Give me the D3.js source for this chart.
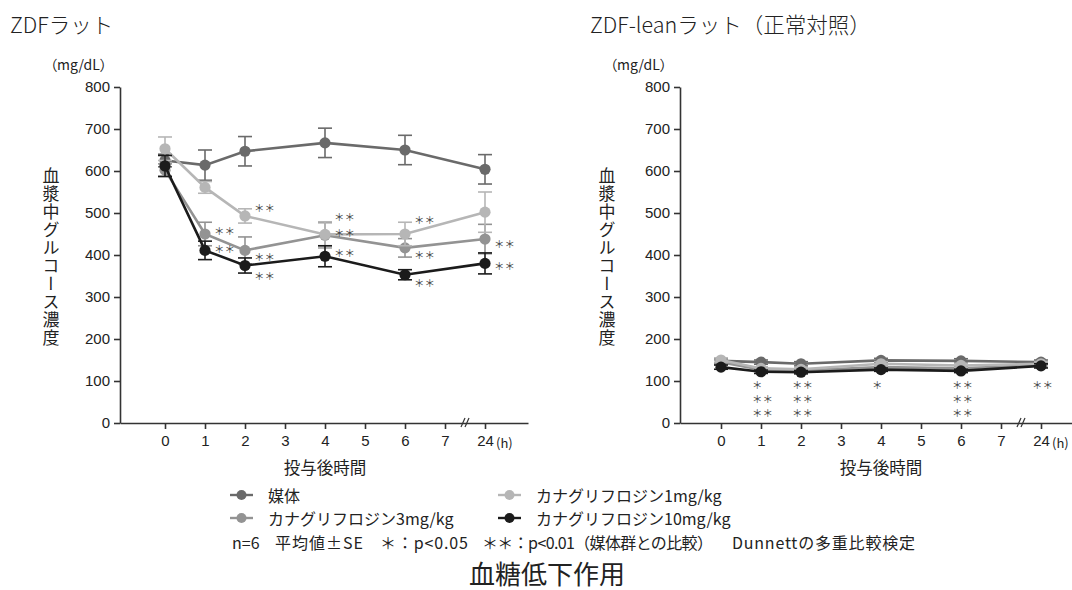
<!DOCTYPE html>
<html>
<head>
<meta charset="utf-8">
<script src="https://cdn.jsdelivr.net/npm/d3@7"></script>
<style>
body { margin: 0; background: #fff; }
svg { font-family: "Noto Sans CJK JP", "Noto Sans", sans-serif; }
.palt { font-feature-settings: "palt"; }
</style>
</head>
<body>
<svg id="chart" width="1072" height="590"></svg>
<script>
// time points (hours after dosing) and x tick labels
var hours = [0, 1, 2, 4, 6, 24];
var tickHours = [0, 1, 2, 3, 4, 5, 6, 7, 24];
var yTicks = [0, 100, 200, 300, 400, 500, 600, 700, 800];

var seriesNames = ['媒体', 'カナグリフロジン1mg/kg', 'カナグリフロジン3mg/kg', 'カナグリフロジン10mg/kg'];
var seriesColors = ['#6a6a6a', '#b6b6b6', '#939393', '#1b1b1b'];

// ZDF rats: mean and SE (mg/dL)
var zdfVehicle   = [625, 614, 647, 667, 650, 604];
var zdfVehicleSE = [15, 36, 35, 35, 35, 35];
var zdf1mg       = [653, 561, 493, 449, 450, 502];
var zdf1mgSE     = [28, 14, 17, 30, 28, 48];
var zdf3mg       = [602, 450, 411, 447, 417, 438];
var zdf3mgSE     = [15, 28, 32, 30, 22, 35];
var zdf10mg      = [612, 411, 375, 397, 353, 380];
var zdf10mgSE    = [25, 22, 18, 25, 12, 25];

// ZDF-lean rats
var leanVehicle   = [148, 145, 141, 149, 148, 145];
var leanVehicleSE = [5, 5, 5, 5, 5, 5];
var lean1mg       = [150, 130, 128, 141, 137, 141];
var lean1mgSE     = [5, 4, 4, 5, 5, 5];
var lean3mg       = [145, 127, 125, 133, 130, 138];
var lean3mgSE     = [5, 4, 4, 5, 5, 5];
var lean10mg      = [133, 122, 121, 127, 124, 136];
var lean10mgSE    = [5, 4, 4, 4, 4, 5];

// significance marks: [series index, hour, mark, vertical offset]
var zdfStars = [
  [1, 2, '＊＊', -8], [2, 1, '＊＊', -4], [3, 1, '＊＊', -2],
  [2, 2, '＊＊', 6], [3, 2, '＊＊', 10],
  [1, 4, '＊＊', -18], [2, 4, '＊＊', -3], [3, 4, '＊＊', -4],
  [1, 6, '＊＊', -15], [2, 6, '＊＊', 7], [3, 6, '＊＊', 8],
  [2, 24, '＊＊', 4], [3, 24, '＊＊', 2]
];
// lean rats: marks stacked under each time point
var leanStars = [
  [1, ['＊', '＊＊', '＊＊']],
  [2, ['＊＊', '＊＊', '＊＊']],
  [4, ['＊']],
  [6, ['＊＊', '＊＊', '＊＊']],
  [24, ['＊＊']]
];

var footnote = ['n=6', '平均値±SE', '＊：p<0.05', '＊＊：p<0.01（媒体群との比較）', 'Dunnettの多重比較検定'];

var svg = d3.select('#chart');

function hourPos(h) { return h === 24 ? 8 : h; }

var y = d3.scaleLinear().domain([0, 800]).range([423, 87]);

function drawPanel(opt) {
  var g = svg.append('g');
  var x = d3.scaleLinear().domain([opt.d0, opt.d1]).range([opt.axisX, opt.axisEnd]);

  // title
  g.append('text').attr('x', opt.titleX).attr('y', 33)
    .attr('font-size', 21.5).attr('font-weight', 300).attr('fill', '#222')
    .text(opt.title);
  g.append('text').attr('x', opt.axisX - 70).attr('y', 70)
    .attr('font-size', 14).attr('fill', '#222').classed('palt', true).text('（mg/dL）');

  // y axis
  var ya = g.append('g').attr('transform', 'translate(' + opt.axisX + ',0)')
    .call(d3.axisLeft(y).tickValues(yTicks).tickSize(6).tickSizeOuter(0).tickPadding(4));
  ya.selectAll('text').attr('font-size', 15).attr('font-family', 'inherit').attr('fill', '#222');
  ya.selectAll('line, path').attr('stroke', '#333').attr('stroke-width', 1.6);

  // x axis
  var xa = g.append('g').attr('transform', 'translate(0,' + y(0) + ')')
    .call(d3.axisBottom(x).tickValues(tickHours.map(hourPos)).tickSize(6).tickSizeOuter(0).tickPadding(6)
      .tickFormat(function(d, i) { return tickHours[i]; }));
  xa.selectAll('text').attr('font-size', 15).attr('font-family', 'inherit').attr('fill', '#222');
  xa.selectAll('line, path').attr('stroke', '#333').attr('stroke-width', 1.6);
  g.append('text').attr('x', x(8) + 11).attr('y', y(0) + 25)
    .attr('font-size', 13).attr('fill', '#222').text('(h)');

  // axis break
  [0, 4].forEach(function(o) {
    g.append('line')
      .attr('x1', x(7.5) - 4 + o).attr('y1', y(0) + 4)
      .attr('x2', x(7.5) + o).attr('y2', y(0) - 5)
      .attr('stroke', '#333').attr('stroke-width', 1.2);
  });

  // axis titles
  g.append('text').attr('x', x(4)).attr('y', 474)
    .attr('text-anchor', 'middle').attr('font-size', 16.5).attr('fill', '#222').text('投与後時間');
  g.append('text').attr('x', opt.labelX).attr('y', 257)
    .attr('text-anchor', 'middle')
    .style('writing-mode', 'vertical-rl')
    .attr('letter-spacing', 1)
    .attr('font-size', 17).attr('fill', '#222').text('血漿中グルコース濃度');

  // series, drawn back to front
  var order = [0, 2, 1, 3];
  order.forEach(function(si) {
    var vals = opt.series[si], se = opt.se[si], col = seriesColors[si];
    var pts = hours.map(function(h, i) { return {h: h, v: vals[i], se: se[i]}; });
    var sg = g.append('g');

    var bars = sg.selectAll('g.err').data(pts).enter().append('g').classed('err', true);
    bars.append('line')
      .attr('x1', function(d) { return x(hourPos(d.h)); })
      .attr('x2', function(d) { return x(hourPos(d.h)); })
      .attr('y1', function(d) { return y(d.v - d.se); })
      .attr('y2', function(d) { return y(d.v + d.se); });
    [-1, 1].forEach(function(s) {
      bars.append('line')
        .attr('x1', function(d) { return x(hourPos(d.h)) - 7; })
        .attr('x2', function(d) { return x(hourPos(d.h)) + 7; })
        .attr('y1', function(d) { return y(d.v + s * d.se); })
        .attr('y2', function(d) { return y(d.v + s * d.se); });
    });
    bars.selectAll('line').attr('stroke', col).attr('stroke-width', 1.6);

    sg.append('path').datum(pts)
      .attr('fill', 'none').attr('stroke', col).attr('stroke-width', 2.6)
      .attr('d', d3.line()
        .x(function(d) { return x(hourPos(d.h)); })
        .y(function(d) { return y(d.v); }));

    sg.selectAll('circle').data(pts).enter().append('circle')
      .attr('cx', function(d) { return x(hourPos(d.h)); })
      .attr('cy', function(d) { return y(d.v); })
      .attr('r', 5.6)
      .attr('fill', col);
  });

  return {g: g, x: x};
}

var left = drawPanel({
  title: 'ZDFラット', titleX: 10, axisX: 120, axisEnd: 528, d0: -1.125, d1: 9.075, labelX: 51,
  series: [zdfVehicle, zdf1mg, zdf3mg, zdf10mg],
  se: [zdfVehicleSE, zdf1mgSE, zdf3mgSE, zdf10mgSE]
});

var right = drawPanel({
  title: 'ZDF-leanラット（正常対照）', titleX: 590, axisX: 680, axisEnd: 1072, d0: -1.025, d1: 8.775, labelX: 607,
  series: [leanVehicle, lean1mg, lean3mg, lean10mg],
  se: [leanVehicleSE, lean1mgSE, lean3mgSE, lean10mgSE]
});

var zdfSeries = [zdfVehicle, zdf1mg, zdf3mg, zdf10mg];
left.g.selectAll('text.star').data(zdfStars).enter().append('text')
  .classed('star', true)
  .attr('x', function(d) { return left.x(hourPos(d[1])) + 9; })
  .attr('y', function(d) { return y(zdfSeries[d[0]][hours.indexOf(d[1])]) + d[3]; })
  .attr('dominant-baseline', 'central')
  .attr('font-size', 10.5).attr('fill', '#444')
  .text(function(d) { return d[2]; });

leanStars.forEach(function(s) {
  s[1].forEach(function(mark, row) {
    right.g.append('text')
      .attr('x', right.x(hourPos(s[0])) - 9)
      .attr('y', y(100) + 3 + row * 14)
      .attr('dominant-baseline', 'central')
      .attr('font-size', 10.5).attr('fill', '#444')
      .text(mark);
  });
});

// legend
var legendItems = [
  {i: 0, x: 230, y: 495}, {i: 1, x: 498, y: 495},
  {i: 2, x: 230, y: 518}, {i: 3, x: 498, y: 518}
];
var lg = svg.append('g').selectAll('g').data(legendItems).enter().append('g')
  .attr('transform', function(d) { return 'translate(' + d.x + ',' + d.y + ')'; });
lg.append('line').attr('x1', 0).attr('x2', 23).attr('y1', 0).attr('y2', 0)
  .attr('stroke', function(d) { return seriesColors[d.i]; }).attr('stroke-width', 2.4);
lg.append('circle').attr('cx', 11.5).attr('cy', 0).attr('r', 5)
  .attr('fill', function(d) { return seriesColors[d.i]; });
lg.append('text').attr('x', 38).attr('y', 0).attr('dominant-baseline', 'central')
  .attr('font-size', 16).attr('fill', '#222')
  .text(function(d) { return seriesNames[d.i]; });

// footnote, one segment per item
var footX = [232, 275, 380, 482, 732];
var footW = [0, 88, 88, 231, 183];
svg.append('g').selectAll('text').data(footnote).enter().append('text')
  .attr('x', function(d, i) { return footX[i]; })
  .attr('y', 549)
  .attr('font-size', 16).attr('fill', '#222')
  .attr('textLength', function(d, i) { return footW[i] || null; })
  .attr('lengthAdjust', 'spacing')
  .text(function(d) { return d; });

svg.append('text').attr('x', 547).attr('y', 584)
  .attr('text-anchor', 'middle').attr('font-size', 26).attr('fill', '#222')
  .text('血糖低下作用');
</script>
</body>
</html>
